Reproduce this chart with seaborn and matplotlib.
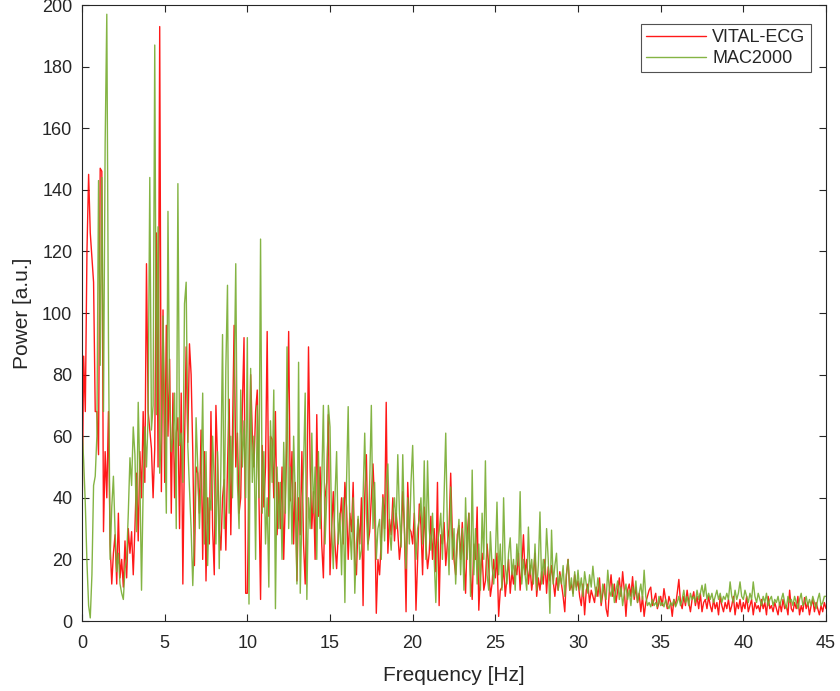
import numpy as np
import pandas as pd
import matplotlib
matplotlib.use("Agg")
import matplotlib.pyplot as plt
import seaborn as sns

# Power spectra, 0.1 Hz step, one row per Hz
vital_ecg = [
    30, 86, 68, 120, 145, 126, 118, 110, 68, 68,
    54, 147, 146, 29, 55, 40, 68, 25, 12, 22,
    28, 12, 35, 14, 20, 11, 26, 14, 30, 22,
    29, 15, 30, 48, 26, 55, 40, 68, 45, 116,
    68, 62, 56, 40, 56, 126, 50, 193, 42, 101,
    45, 96, 60, 85, 35, 74, 40, 61, 66, 30,
    74, 12, 57, 89, 58, 90, 80, 55, 18, 50,
    48, 35, 62, 20, 55, 13, 40, 25, 68, 30,
    15, 70, 52, 30, 23, 40, 46, 23, 50, 72,
    28, 60, 96, 50, 61, 35, 40, 70, 92, 9,
    9, 45, 80, 61, 50, 68, 75, 40, 7, 57,
    37, 50, 94, 34, 60, 59, 40, 68, 28, 45,
    30, 50, 20, 40, 60, 94, 39, 55, 25, 45,
    13, 40, 28, 55, 25, 12, 40, 89, 50, 30,
    42, 20, 67, 34, 50, 25, 14, 40, 45, 67,
    15, 30, 42, 25, 17, 28, 33, 40, 25, 45,
    37, 20, 35, 29, 45, 20, 15, 33, 25, 40,
    5, 40, 54, 25, 29, 40, 51, 38, 2.5, 20,
    15, 26, 41, 30, 71, 22, 33, 28, 40, 26,
    35, 29, 20, 26, 42, 30, 3, 45, 30, 29,
    25, 35, 3.5, 20, 38, 31, 15, 37, 25, 17,
    22, 34, 20, 30, 16, 45, 5, 28, 25, 32,
    18, 25, 30, 48, 28, 20, 15, 28, 31, 20,
    32, 20, 9, 28, 35, 15, 7, 25, 20, 37,
    3.5, 15, 22, 10, 13, 25, 17.6, 8, 12, 20,
    14, 22, 1.5, 10, 11, 18, 8, 14, 20, 9,
    16, 12, 18, 15, 22, 10, 18, 28, 15, 20,
    12, 18, 10, 15, 22, 8, 14, 10, 16, 12,
    20, 9, 17.6, 13, 18, 13, 8, 14, 10, 16,
    12, 8, 3, 15, 20, 10, 12, 9, 15, 11,
    13, 8, 5, 12, 2, 10, 12, 6, 10, 8,
    6, 11, 8, 14, 5, 9, 12, 4, 1.5, 10,
    15, 8, 12, 6, 10, 14, 8, 16, 10, 1.5,
    10, 12, 8, 14.4, 7, 11, 6, 9, 3, 8,
    1.5, 6, 8, 10, 11, 5, 7, 9, 4, 6,
    8, 5, 10.5, 7, 4, 8, 6, 1.5, 7, 5,
    9, 13.5, 6, 4, 8, 5, 10, 6, 3, 7,
    9.5, 5, 8, 4, 9, 3, 6, 7, 4, 8,
    5, 3, 7, 4, 6, 2, 8, 5, 3, 6,
    4, 7, 3, 5, 8, 2, 6, 4, 7, 3,
    6, 4, 8, 3, 5, 7, 2, 6, 4, 5,
    3, 7, 4, 6, 2, 8, 4, 5, 3, 6,
    4, 2, 6, 3, 7, 4, 5, 2, 10, 4,
    3, 6, 4, 8, 2, 5, 3, 7.6, 4, 6,
    2, 5, 7, 3, 6, 4, 2, 5, 3, 6,
    4,
]

mac2000 = [
    63, 52, 38, 19, 5, 1, 15, 44, 47, 60,
    143, 83, 144, 68, 155, 197, 92, 20, 37, 47,
    29, 16, 22, 12, 9, 7, 17, 20, 35, 53,
    44, 63, 54, 29, 71, 47, 10, 43, 63, 50,
    67, 144, 62, 70, 187, 67, 128, 48, 60, 99,
    66, 35, 133, 72, 55, 60, 74, 30, 142, 57,
    61, 45, 103, 110, 57, 43, 30, 11.5, 29, 66,
    50, 30, 45, 74, 25, 55, 18, 40, 36, 60,
    45, 25, 55, 17, 50, 93, 30, 82, 109, 35,
    60, 40, 75, 116, 45, 30, 75, 50, 65, 40,
    92, 5.5, 82, 45, 60, 20, 70, 40, 124, 35,
    55, 25, 40, 11, 65, 45, 75, 4, 50, 30,
    45, 20, 58, 35, 89, 30, 50, 25, 60, 40,
    12, 84, 9, 35, 50, 74, 7, 40, 30, 61,
    35, 50, 20, 55, 30, 45, 70, 25, 40, 70,
    63, 30, 17, 40, 55, 25, 35, 15, 40, 6,
    45, 69.6, 30, 20, 40, 9, 25, 34, 20, 23,
    40, 61, 35, 23, 45, 70, 30, 45, 20, 30,
    33, 20, 40, 26, 45, 51, 30, 23, 35, 40,
    30, 54, 35, 24, 54, 30, 17, 40, 25, 45,
    57, 35, 20, 30, 33, 40, 25, 52, 20, 52,
    30, 23, 35, 20, 6, 25, 29, 35, 20, 40,
    61, 30, 15, 43.5, 20, 30, 12, 25, 33, 15,
    30, 10, 40, 20, 35, 8, 49, 15, 30, 12,
    25, 10, 35, 20, 52, 15, 10, 29, 18, 12,
    20, 38.6, 15, 25, 10, 40, 18, 12, 22, 27,
    15, 20, 10, 25, 18, 42, 12, 20, 15, 10,
    30.5, 15, 20, 12, 25, 10, 18, 35.4, 12, 20,
    15, 30, 20, 2.5, 29.5, 12, 18, 22, 10, 15,
    12, 18, 8, 15, 20, 10, 14, 8, 16, 10,
    16.5, 10, 14, 8, 16, 12, 9, 15, 11, 17.8,
    12, 8, 14, 10, 6, 12, 9, 7, 16.5, 10,
    8, 12, 6, 10, 13, 7, 11, 5, 9, 12,
    7, 10, 5, 11, 8, 13, 6, 9, 12, 7,
    16.5, 8, 5, 6, 4.6, 7, 5, 6, 4.6, 8,
    5, 6, 4.6, 7, 5, 4, 6, 5, 7, 4.6,
    6, 8, 5, 7, 10, 6, 8, 5, 9, 7,
    8, 6, 10, 7, 9, 11.6, 8, 12, 7, 9,
    7, 9, 6, 8, 10, 7, 9, 6, 8, 7,
    9, 7, 12.7, 8, 6, 10, 7, 9, 12.7, 8,
    7, 10, 8, 6, 9, 7, 12.7, 8, 6, 9,
    7, 5, 8, 6, 9, 5, 7, 8, 5, 7,
    6, 8, 5, 7, 9, 6, 4, 8, 6, 7,
    5, 8, 6, 4, 7, 9, 5, 6, 8, 5,
    7, 5, 8, 6, 4, 7, 9, 5, 6, 8,
    8,
]

series_names = ["VITAL-ECG", "MAC2000"]
x_ticks = [0, 5, 10, 15, 20, 25, 30, 35, 40, 45]
y_ticks = [0, 20, 40, 60, 80, 100, 120, 140, 160, 180, 200]

freq = np.round(np.arange(len(vital_ecg)) * 0.1, 1)

df = pd.concat([
    pd.DataFrame({"Frequency": freq, "Power": vital_ecg, "Device": series_names[0]}),
    pd.DataFrame({"Frequency": freq, "Power": mac2000, "Device": series_names[1]}),
], ignore_index=True)

sns.set_theme(style="white")
plt.rcParams["font.family"] = ["Liberation Sans", "DejaVu Sans"]
text_col = "#262626"

W, H = 840, 691
fig = plt.figure(figsize=(W / 100, H / 100), dpi=100)
ax_left, ax_right, ax_top, ax_bottom = 82, 826, 5, 621
ax = fig.add_axes([ax_left / W, 1 - ax_bottom / H,
                   (ax_right - ax_left) / W, (ax_bottom - ax_top) / H])

sns.lineplot(data=df, x="Frequency", y="Power", hue="Device",
             palette={"VITAL-ECG": "#FF0000", "MAC2000": "#77AC30"},
             linewidth=1.0, alpha=0.9, ax=ax, estimator=None, sort=False)

ax.set_xlim(0, 45)
ax.set_ylim(0, 200)
ax.set_xticks(x_ticks)
ax.set_yticks(y_ticks)
ax.set_xlabel("Frequency [Hz]", fontsize=15, color=text_col, labelpad=10)
ax.set_ylabel("Power [a.u.]", fontsize=15, color=text_col, labelpad=7)
ax.tick_params(axis="both", direction="in", length=5, width=0.8, colors=text_col,
               labelsize=13, top=True, right=True, bottom=True, left=True)
ax.tick_params(axis="x", pad=10)
ax.tick_params(axis="y", pad=7)
for s in ax.spines.values():
    s.set_color(text_col)
    s.set_linewidth(0.8)

leg = ax.legend(loc="upper right", bbox_to_anchor=(811 / W, 1 - 24 / H),
                bbox_transform=fig.transFigure, fontsize=13, frameon=True,
                fancybox=False, handlelength=3.3, borderaxespad=0.0,
                borderpad=0.3, labelspacing=0.2, handletextpad=0.35)
leg.get_frame().set_edgecolor(text_col)
leg.get_frame().set_linewidth(0.8)
for t in leg.get_texts():
    t.set_color(text_col)

fig.savefig("out.png", dpi=100)
